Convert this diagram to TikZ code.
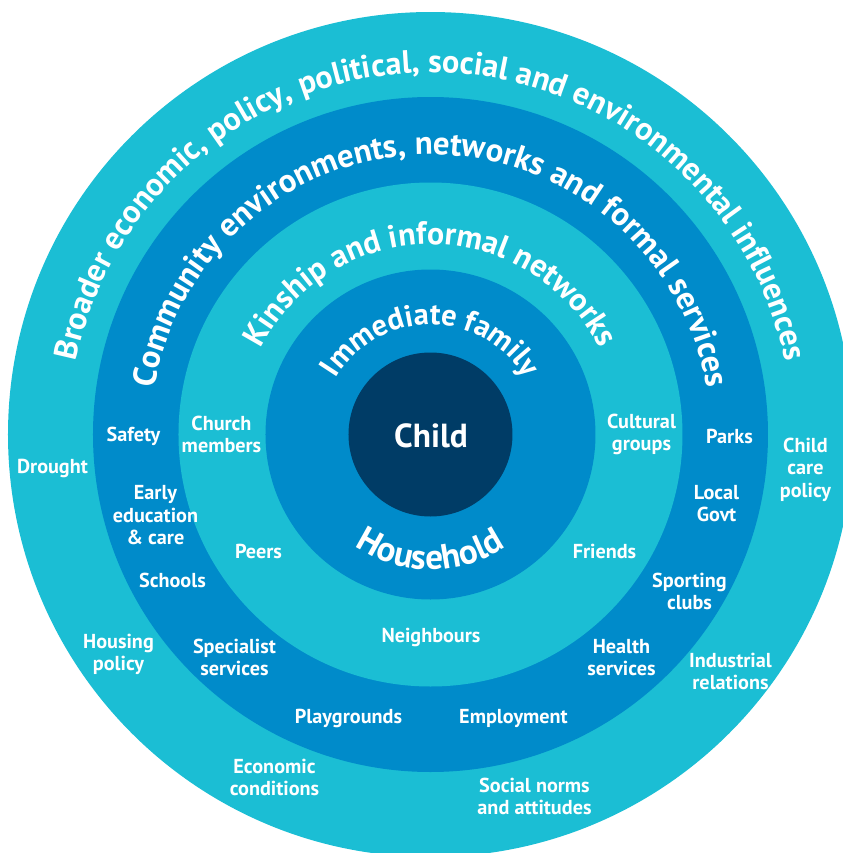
\documentclass[tikz,border=0pt]{standalone}
\usepackage{fontspec}
\setmainfont{PT Sans}
\usetikzlibrary{decorations.text}
\definecolor{ringlight}{RGB}{27,190,212}
\definecolor{ringdark}{RGB}{0,139,202}
\definecolor{childnavy}{RGB}{0,60,102}
\tikzset{
  item/.style={text=white, font=\fontsize{11.5}{12.8}\selectfont\bfseries, align=center, inner sep=0pt},
  ringtext/.style 2 args={decorate, decoration={text along path, text align=center, text color=white,
      text={|\fontsize{#1}{#1}\selectfont\bfseries|#2}}}
}
\begin{document}
\begin{tikzpicture}[x=0.02cm, y=0.02cm]
	\useasboundingbox (-430.5,-418.5) rectangle (412.5,434.5);
	\clip (-430.5,-418.5) rectangle (412.5,434.5);
	%rings
		\fill[ringlight] (0,0) circle[radius=422.5];
		\fill[ringdark] (0,0) circle[radius=337.5];
		\fill[ringlight] (0,0) circle[radius=252];
		\fill[ringdark] (0,0) circle[radius=165];
		\fill[childnavy] (0,0) circle[radius=82];
	%ring titles
		\path[ringtext={18.4}{Broader economic, policy, political, social and environmental influences}]
			(178:362) arc[start angle=178, end angle=2, radius=362];
		\path[ringtext={18.7}{Community environments, networks and formal services}]
			(178:280) arc[start angle=178, end angle=2, radius=280];
		\path[ringtext={18.2}{Kinship and informal networks}]
			(175:190) arc[start angle=175, end angle=5, radius=190];
		\path[ringtext={17.3}{Immediate family}]
			(175:110) arc[start angle=175, end angle=5, radius=110];
		\path[ringtext={20}{Household}]
			(200:135) arc[start angle=200, end angle=340, radius=135];
	%centre
		\node[text=white, font=\fontsize{19}{19}\selectfont\bfseries] (child) at (0.5,-1.5) {Child};
	%outer ring items
		\node[item] (drought) at (-378,-34) {Drought};
		\node[item] (housing) at (-312,-220) {Housing\\policy};
		\node[item] (economic) at (-156,-343) {Economic\\conditions};
		\node[item] (norms) at (104,-362) {Social norms\\and attitudes};
		\node[item] (industrial) at (300,-237) {Industrial\\relations};
		\node[item] (childcare) at (375,-35) {Child\\care\\policy};
	%community ring items
		\node[item] (safety) at (-297,-2) {Safety};
		\node[item] (early) at (-275,-81) {Early\\education\\\& care};
		\node[item] (schools) at (-258,-146) {Schools};
		\node[item] (specialist) at (-196,-223) {Specialist\\services};
		\node[item] (playgrounds) at (-82,-284) {Playgrounds};
		\node[item] (employment) at (83,-284) {Employment};
		\node[item] (health) at (191,-223) {Health\\services};
		\node[item] (sporting) at (259,-157) {Sporting\\clubs};
		\node[item] (govt) at (286,-69) {Local\\Govt};
		\node[item] (parks) at (299,-2) {Parks};
	%kinship ring items
		\node[item] (church) at (-209,0) {Church\\members};
		\node[item] (peers) at (-172,-117) {Peers};
		\node[item] (neighbours) at (0.5,-203) {Neighbours};
		\node[item] (friends) at (174,-117) {Friends};
		\node[item] (cultural) at (211,0) {Cultural\\groups};
\end{tikzpicture}
\end{document}
